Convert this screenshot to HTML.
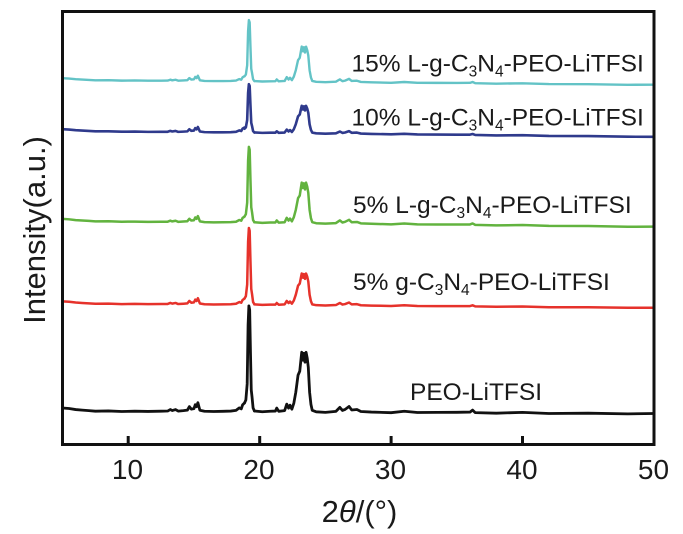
<!DOCTYPE html>
<html>
<head>
<meta charset="utf-8">
<style>
  html,body{margin:0;padding:0;background:#fff;}
  svg{display:block;}
  text{font-family:"Liberation Sans", Arial, sans-serif; fill:#1a1a1a;}
  .c path{fill:none;stroke-linejoin:round;stroke-linecap:round;vector-effect:non-scaling-stroke;}
</style>
</head>
<body>
<svg width="683" height="534" viewBox="0 0 683 534" xmlns="http://www.w3.org/2000/svg">
  <rect x="0" y="0" width="683" height="534" fill="#fff"/>

  <!-- Cyan 15% -->
  <g class="c" stroke="#63c3c6" stroke-width="2.4">
    <path transform="matrix(13.144,0.111,0,-0.6,-3.22,79.44)" d="M5,3 L5.5,2.5 L6,1.5 L6.5,1 L7,0.5 L7.5,0 L8.5,0.3 L9.5,-0.2 L10.5,0.2 L11.5,0 L12.5,0.3 L13,0.5 L13.2,2 L13.35,1 L13.6,2 L13.8,0.5 L14.2,1 L14.5,1.5 L14.65,5 L14.8,2.5 L15,3 L15.1,7 L15.2,5 L15.3,9 L15.45,1.5 L15.8,0.5 L16.5,0.3 L17.2,0.5 L17.8,0.8 L18.2,1.5 L18.45,4 L18.6,3 L18.7,7 L18.85,9"/>
    <path transform="matrix(13.144,0.111,0,-0.58,-3.22,79.44)" d="M18.85,9 L18.95,12 L19.05,28 L19.12,87 L19.18,106 L19.24,102 L19.3,60 L19.36,22 L19.42,15 L19.5,4 L19.6,1"/>
    <path transform="matrix(13.144,0.111,0,-0.59,-3.22,79.44)" d="M19.6,1 L20.2,0.3 L20.8,0.8 L21.2,1 L21.3,4 L21.45,0.8 L21.9,1.5 L22.06,8 L22.2,4 L22.31,7 L22.45,3 L22.6,9 L22.75,20 L22.92,37 L23.05,41 L23.2,60 L23.3,52 L23.37,59 L23.45,50 L23.53,60 L23.62,54 L23.7,45 L23.8,20 L23.9,8 L24,2 L24.3,0.5 L25,0 L25.8,1 L26.1,5 L26.3,2 L26.5,3 L26.8,6 L27,2.5 L27.4,3 L27.7,1 L28.5,0.5 L30,0 L31,1.5 L32,0.3 L33.5,0.5 L35,0.7 L36,1 L36.2,2.5 L36.4,0.5 L38,0 L40,1 L42,0 L45,0.5 L48,0 L50,0.5"/>
  </g>

  <!-- Blue 10% -->
  <g class="c" stroke="#2f3a8c" stroke-width="2.6">
    <path transform="matrix(13.144,0.1333,0,-0.6,-3.22,130.33)" d="M5,3 L5.5,2.5 L6,1.5 L6.5,1 L7,0.5 L7.5,0 L8.5,0.3 L9.5,-0.2 L10.5,0.2 L11.5,0 L12.5,0.3 L13,0.5 L13.2,2 L13.35,1 L13.6,2 L13.8,0.5 L14.2,1 L14.5,1.5 L14.65,5 L14.8,2.5 L15,3 L15.1,7 L15.2,5 L15.3,9 L15.45,1.5 L15.8,0.5 L16.5,0.3 L17.2,0.5 L17.8,0.8 L18.2,1.5 L18.45,4 L18.6,3 L18.7,7 L18.85,9"/>
    <path transform="matrix(13.144,0.1333,0,-0.46,-3.22,130.33)" d="M18.85,9 L18.95,12 L19.05,28 L19.12,87 L19.18,106 L19.24,102 L19.3,60 L19.36,22 L19.42,15 L19.5,4 L19.6,1"/>
    <path transform="matrix(13.144,0.1333,0,-0.46,-3.22,130.33)" d="M19.6,1 L20.2,0.3 L20.8,0.8 L21.2,1 L21.3,4 L21.45,0.8 L21.9,1.5 L22.06,8 L22.2,4 L22.31,7 L22.45,3 L22.6,9 L22.75,20 L22.92,37 L23.05,41 L23.2,60 L23.3,52 L23.37,59 L23.45,50 L23.53,60 L23.62,54 L23.7,45 L23.8,20 L23.9,8 L24,2 L24.3,0.5 L25,0 L25.8,1 L26.1,5 L26.3,2 L26.5,3 L26.8,6 L27,2.5 L27.4,3 L27.7,1 L28.5,0.5 L30,0 L31,1.5 L32,0.3 L33.5,0.5 L35,0.7 L36,1 L36.2,2.5 L36.4,0.5 L38,0 L40,1 L42,0 L45,0.5 L48,0 L50,0.5"/>
  </g>

  <!-- Green 5% L -->
  <g class="c" stroke="#62b33f" stroke-width="2.5">
    <path transform="matrix(13.144,0.1333,0,-0.7,-3.22,220.33)" d="M5,3 L5.5,2.5 L6,1.5 L6.5,1 L7,0.5 L7.5,0 L8.5,0.3 L9.5,-0.2 L10.5,0.2 L11.5,0 L12.5,0.3 L13,0.5 L13.2,2 L13.35,1 L13.6,2 L13.8,0.5 L14.2,1 L14.5,1.5 L14.65,5 L14.8,2.5 L15,3 L15.1,7 L15.2,5 L15.3,9 L15.45,1.5 L15.8,0.5 L16.5,0.3 L17.2,0.5 L17.8,0.8 L18.2,1.5 L18.45,4 L18.6,3 L18.7,7 L18.85,9"/>
    <path transform="matrix(13.144,0.1333,0,-0.717,-3.22,220.33)" d="M18.85,9 L18.95,12 L19.05,28 L19.12,87 L19.18,106 L19.24,102 L19.3,60 L19.36,22 L19.42,15 L19.5,4 L19.6,1"/>
    <path transform="matrix(13.144,0.1333,0,-0.68,-3.22,220.33)" d="M19.6,1 L20.2,0.3 L20.8,0.8 L21.2,1 L21.3,4 L21.45,0.8 L21.9,1.5 L22.06,8 L22.2,4 L22.31,7 L22.45,3 L22.6,9 L22.75,20 L22.92,37 L23.05,41 L23.2,60 L23.3,52 L23.37,59 L23.45,50 L23.53,60 L23.62,54 L23.7,45 L23.8,20 L23.9,8 L24,2 L24.3,0.5 L25,0 L25.8,1 L26.1,5 L26.3,2 L26.5,3 L26.8,6 L27,2.5 L27.4,3 L27.7,1 L28.5,0.5 L30,0 L31,1.5 L32,0.3 L33.5,0.5 L35,0.7 L36,1 L36.2,2.5 L36.4,0.5 L38,0 L40,1 L42,0 L45,0.5 L48,0 L50,0.5"/>
  </g>

  <!-- Red 5% g -->
  <g class="c" stroke="#e6322b" stroke-width="2.5">
    <path transform="matrix(13.144,0.1,0,-0.7,-3.22,303)" d="M5,3 L5.5,2.5 L6,1.5 L6.5,1 L7,0.5 L7.5,0 L8.5,0.3 L9.5,-0.2 L10.5,0.2 L11.5,0 L12.5,0.3 L13,0.5 L13.2,2 L13.35,1 L13.6,2 L13.8,0.5 L14.2,1 L14.5,1.5 L14.65,5 L14.8,2.5 L15,3 L15.1,7 L15.2,5 L15.3,9 L15.45,1.5 L15.8,0.5 L16.5,0.3 L17.2,0.5 L17.8,0.8 L18.2,1.5 L18.45,4 L18.6,3 L18.7,7 L18.85,9"/>
    <path transform="matrix(13.144,0.1,0,-0.726,-3.22,303)" d="M18.85,9 L18.95,12 L19.05,28 L19.12,87 L19.18,106 L19.24,102 L19.3,60 L19.36,22 L19.42,15 L19.5,4 L19.6,1"/>
    <path transform="matrix(13.144,0.1,0,-0.53,-3.22,303)" d="M19.6,1 L20.2,0.3 L20.8,0.8 L21.2,1 L21.3,4 L21.45,0.8 L21.9,1.5 L22.06,8 L22.2,4 L22.31,7 L22.45,3 L22.6,9 L22.75,20 L22.92,37 L23.05,41 L23.2,60 L23.3,52 L23.37,59 L23.45,50 L23.53,60 L23.62,54 L23.7,45 L23.8,20 L23.9,8 L24,2 L24.3,0.5 L25,0 L25.8,1 L26.1,5 L26.3,2 L26.5,3 L26.8,6 L27,2.5 L27.4,3 L27.7,1 L28.5,0.5 L30,0 L31,1.5 L32,0.3 L33.5,0.5 L35,0.7 L36,1 L36.2,2.5 L36.4,0.5 L38,0 L40,1 L42,0 L45,0.5 L48,0 L50,0.5"/>
  </g>

  <!-- Black PEO-LiTFSI -->
  <g class="c" stroke="#111111" stroke-width="2.8">
    <path transform="matrix(13.144,0.0667,0,-1,-3.22,410.67)" d="M5,3 L5.5,2.5 L6,1.5 L6.5,1 L7,0.5 L7.5,0 L8.5,0.3 L9.5,-0.2 L10.5,0.2 L11.5,0 L12.5,0.3 L13,0.5 L13.2,2 L13.35,1 L13.6,2 L13.8,0.5 L14.2,1 L14.5,1.5 L14.65,5 L14.8,2.5 L15,3 L15.1,7 L15.2,5 L15.3,9 L15.45,1.5 L15.8,0.5 L16.5,0.3 L17.2,0.5 L17.8,0.8 L18.2,1.5 L18.45,4 L18.6,3 L18.7,7 L18.85,9"/>
    <path transform="matrix(13.144,0.0667,0,-1,-3.22,410.67)" d="M18.85,9 L18.95,12 L19.05,28 L19.12,87 L19.18,106 L19.24,102 L19.3,60 L19.36,22 L19.42,15 L19.5,4 L19.6,1"/>
    <path transform="matrix(13.144,0.0667,0,-1,-3.22,410.67)" d="M19.6,1 L20.2,0.3 L20.8,0.8 L21.2,1 L21.3,4 L21.45,0.8 L21.9,1.5 L22.06,8 L22.2,4 L22.31,7 L22.45,3 L22.6,9 L22.75,20 L22.92,37 L23.05,41 L23.2,60 L23.3,52 L23.37,59 L23.45,50 L23.53,60 L23.62,54 L23.7,45 L23.8,20 L23.9,8 L24,2 L24.3,0.5 L25,0 L25.8,1 L26.1,5 L26.3,2 L26.5,3 L26.8,6 L27,2.5 L27.4,3 L27.7,1 L28.5,0.5 L30,0 L31,1.5 L32,0.3 L33.5,0.5 L35,0.7 L36,1 L36.2,3 L36.4,0.5 L38,0 L40,1 L42,0 L45,0.5 L48,0 L50,0.5"/>
  </g>

  <!-- Frame -->
  <rect x="62.5" y="11.5" width="591.5" height="433" fill="none" stroke="#111" stroke-width="3"/>

  <!-- Ticks -->
  <g stroke="#111" stroke-width="3">
    <line x1="128.2" y1="436" x2="128.2" y2="444"/>
    <line x1="259.7" y1="436" x2="259.7" y2="444"/>
    <line x1="391.1" y1="436" x2="391.1" y2="444"/>
    <line x1="522.5" y1="436" x2="522.5" y2="444"/>
  </g>

  <!-- Tick labels -->
  <g font-size="28" text-anchor="middle">
    <text x="127.5" y="479">10</text>
    <text x="259" y="479">20</text>
    <text x="390.5" y="479">30</text>
    <text x="522" y="479">40</text>
    <text x="653.5" y="479">50</text>
  </g>

  <!-- Axis titles -->
  <text x="359.5" y="522" font-size="31" text-anchor="middle">2<tspan font-style="italic">θ</tspan>/(°)</text>
  <text transform="translate(45,230) rotate(-90)" font-size="31" text-anchor="middle">Intensity(a.u.)</text>

  <!-- Series labels -->
  <g font-size="24.5">
    <text x="351.5" y="71.5">15% L-g-C<tspan font-size="15.5" dy="5">3</tspan><tspan dy="-5">N</tspan><tspan font-size="15.5" dy="5">4</tspan><tspan dy="-5">-PEO-LiTFSI</tspan></text>
    <text x="351.5" y="125.5">10% L-g-C<tspan font-size="15.5" dy="5">3</tspan><tspan dy="-5">N</tspan><tspan font-size="15.5" dy="5">4</tspan><tspan dy="-5">-PEO-LiTFSI</tspan></text>
    <text x="353" y="213">5% L-g-C<tspan font-size="15.5" dy="5">3</tspan><tspan dy="-5">N</tspan><tspan font-size="15.5" dy="5">4</tspan><tspan dy="-5">-PEO-LiTFSI</tspan></text>
    <text x="353" y="290">5% g-C<tspan font-size="15.5" dy="5">3</tspan><tspan dy="-5">N</tspan><tspan font-size="15.5" dy="5">4</tspan><tspan dy="-5">-PEO-LiTFSI</tspan></text>
    <text x="410" y="400">PEO-LiTFSI</text>
  </g>
</svg>
</body>
</html>
